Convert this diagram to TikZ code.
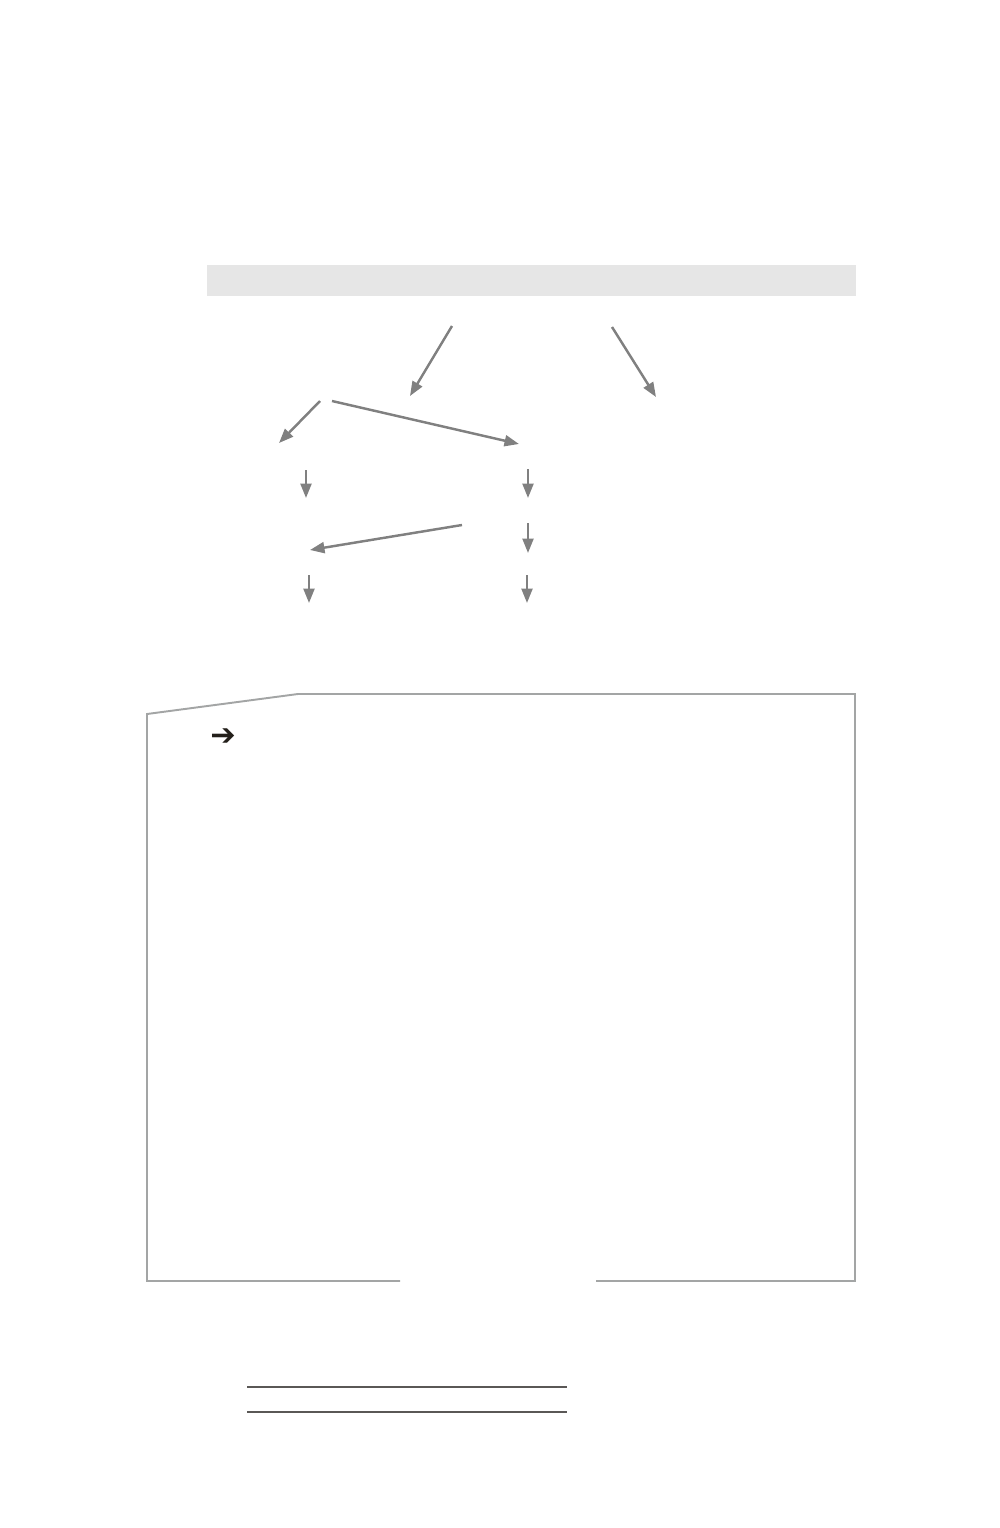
\documentclass[tikz,border=0pt]{standalone}
\usepackage{fontspec}
\newfontfamily\symfont{DejaVu Sans Bold}
\usepackage{tikz}
\usetikzlibrary{arrows.meta, calc}

\definecolor{arrowGray}{HTML}{808080}
\definecolor{bandGray}{HTML}{E6E6E6}
\definecolor{boxGray}{HTML}{A3A5A5}
\definecolor{ruleGray}{HTML}{5A5856}
\definecolor{markDark}{HTML}{231F1A}

\begin{document}
\begin{tikzpicture}[
	x=0.02cm, y=-0.02cm,
	flow/.style={arrowGray, line width=1.4pt, -{Triangle[length=0.29cm, width=0.22cm]}},
	frame/.style={boxGray, line width=1.1pt},
	rule/.style={ruleGray, line width=0.8pt}
	]
	
	\useasboundingbox (0,0) rectangle (1000,1528);
	
	% Band
	\fill[bandGray] (207,265) rectangle (856,296);
	
	% Tree
	\coordinate (R1) at (452,326);
	\coordinate (R2) at (612,327);
	\coordinate (L) at (410,396);
	\coordinate (Rt) at (656,397);
	\coordinate (La) at (320,401);
	\coordinate (Lb) at (332,401);
	\coordinate (LL) at (279,443);
	\coordinate (LR) at (519,444);
	
	\draw[flow] (R1) -- (L);
	\draw[flow] (R2) -- (Rt);
	\draw[flow] (La) -- (LL);
	\draw[flow] (Lb) -- (LR);
	
	% Columns
	\coordinate (A1) at (306,470);
	\coordinate (A2) at (306,498);
	\coordinate (B1) at (528,469);
	\coordinate (B2) at (528,498);
	\coordinate (C1) at (462,525);
	\coordinate (C2) at (310,550);
	\coordinate (B3) at (528,523);
	\coordinate (B4) at (528,553);
	\coordinate (D1) at (309,575);
	\coordinate (D2) at (309,603);
	\coordinate (E1) at (527,575);
	\coordinate (E2) at (527,603);
	
	\draw[flow] (A1) -- (A2);
	\draw[flow] (B1) -- (B2);
	\draw[flow] (C1) -- (C2);
	\draw[flow] (B3) -- (B4);
	\draw[flow] (D1) -- (D2);
	\draw[flow] (E1) -- (E2);
	
	% Box
	\coordinate (F1) at (400,1281);
	\coordinate (F2) at (596,1281);
	\draw[frame, line join=miter] (F1) -- (147,1281) -- (147,714) -- (298,694) -- (855,694) -- (855,1281) -- (F2);
	\node[markDark, font=\symfont\LARGE, inner sep=0pt] (mark) at (223,737) {➔};
	
	% Rules
	\draw[rule] (247,1387) -- (567,1387);
	\draw[rule] (247,1412) -- (567,1412);
\end{tikzpicture}
\end{document}
